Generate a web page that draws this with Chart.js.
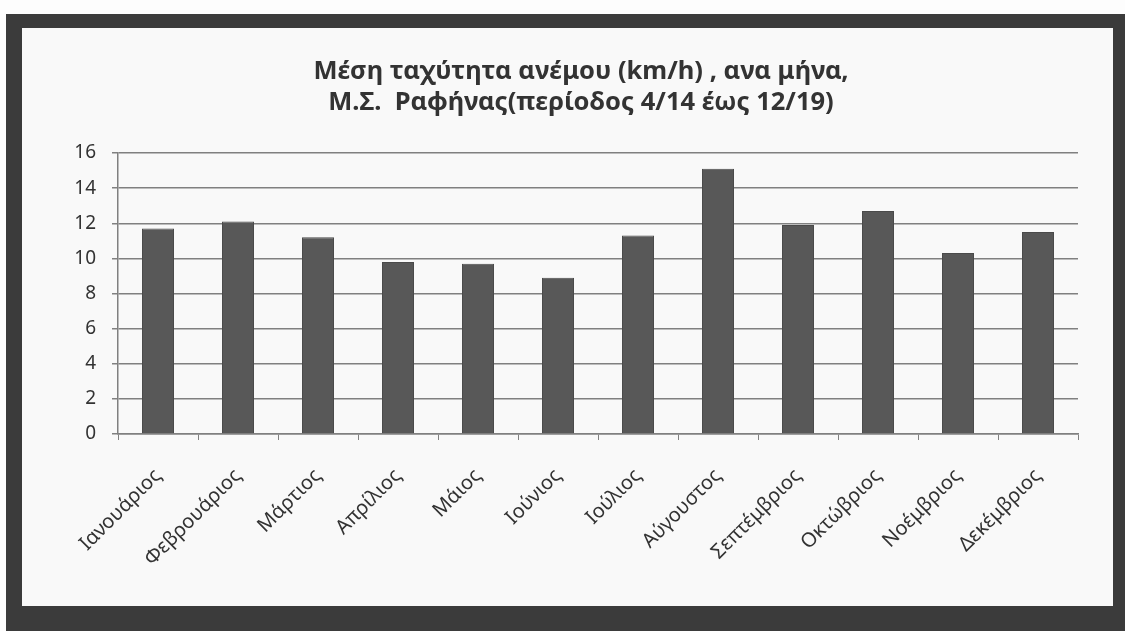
<!DOCTYPE html>
<html>
<head>
<meta charset="utf-8">
<script src="https://cdn.jsdelivr.net/npm/chart.js@4"></script>
<style>
  body { margin: 0; width: 1125px; height: 631px; background: #fdfdfd; overflow: hidden; position: relative; }
  #frame { position: absolute; left: 6px; top: 14px; width: 1119px; height: 617px; background: #3b3b3b; }
  #sheet { position: absolute; left: 22px; top: 28px; width: 1091px; height: 578px; background: #f9f9f9; }
  #chartWind { position: absolute; left: 0; top: 0; }
</style>
</head>
<body>
<div id="frame"></div>
<div id="sheet"><canvas id="chartWind" width="1091" height="578"></canvas></div>
<script>
const months = ['Ιανουάριος', 'Φεβρουάριος', 'Μάρτιος', 'Απρίλιος', 'Μάιος', 'Ιούνιος',
    'Ιούλιος', 'Αύγουστος', 'Σεπτέμβριος', 'Οκτώβριος', 'Νοέμβριος', 'Δεκέμβριος'];
const windSpeed = [11.7, 12.1, 11.2, 9.8, 9.7, 8.9, 11.3, 15.1, 11.9, 12.7, 10.3, 11.5];
const titleLines = ['Μέση ταχύτητα ανέμου (km/h) , ανα μήνα,', 'Μ.Σ.  Ραφήνας(περίοδος 4/14 έως 12/19)'];
const yMax = 16;
const yStep = 2;

// the scanned title is not centred on the canvas, so draw it ourselves
const titlePlugin = {
    id: 'scanTitle',
    afterDraw(chart) {
        const c = chart.ctx;
        c.save();
        c.fillStyle = '#333';
        c.font = 'bold 25.5px "Noto Sans"';
        c.textAlign = 'center';
        c.textBaseline = 'middle';
        titleLines.forEach((line, i) => c.fillText(line, 559, 44 + i * 31));
        c.restore();
    }
};

const ctxWind = document.getElementById('chartWind');
const chartWind = new Chart(ctxWind, {
    type: 'bar',
    data: {
        labels: months,
        datasets: [{
            label: 'ταχύτητα ανέμου',
            data: windSpeed,
            backgroundColor: '#585858',
            borderColor: '#4a4a4a',
            borderWidth: 1,
            categoryPercentage: 1,
            barPercentage: 0.4
        }]
    },
    options: {
        responsive: false,
        animation: false,
        layout: { padding: { left: 26, right: 35, top: 125, bottom: 0 } },
        plugins: {
            legend: { display: false },
            tooltip: { enabled: false },
            title: { display: false }
        },
        scales: {
            x: {
                grid: {
                    offset: true,
                    drawOnChartArea: false,
                    drawTicks: true,
                    tickLength: 6,
                    color: '#808080'
                },
                border: { display: true, color: '#808080', width: 1.5 },
                ticks: {
                    color: '#333',
                    font: { family: 'Noto Sans', size: 20 },
                    minRotation: 45,
                    maxRotation: 45,
                    padding: 24
                },
                afterFit: (scale) => { scale.height = 172; }
            },
            y: {
                min: 0,
                max: yMax,
                grid: {
                    color: '#808080',
                    lineWidth: 1.5,
                    drawTicks: true,
                    tickLength: 6
                },
                border: { display: true, color: '#808080', width: 1.5 },
                ticks: {
                    stepSize: yStep,
                    color: '#333',
                    font: { family: 'Noto Sans', size: 19 },
                    padding: 16
                },
                afterFit: (scale) => { scale.width = 70; }
            }
        }
    },
    plugins: [titlePlugin]
});
</script>
</body>
</html>
